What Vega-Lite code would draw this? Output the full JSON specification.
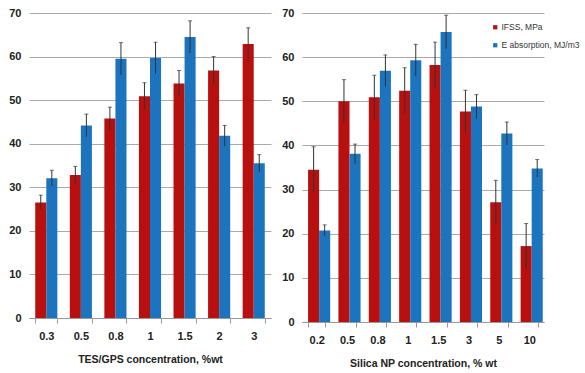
{
  "$schema": "https://vega.github.io/schema/vega-lite/v6.json",
  "padding": {"left": 8, "top": 7, "right": 0, "bottom": 0},
  "background": "white",
  "config": {
    "view": {"stroke": null},
    "font": "Liberation Sans",
    "axis": {
      "labelFont": "Liberation Sans",
      "labelFontSize": 11,
      "labelFontWeight": "bold",
      "labelColor": "#222",
      "titleFont": "Liberation Sans",
      "titleFontSize": 10.5,
      "titleFontWeight": "bold",
      "titleColor": "#222",
      "domainColor": "#999",
      "tickColor": "#999",
      "gridColor": "#aaa"
    }
  },
  "datasets": {
    "tes": [
      {"conc": "0.3", "series": "IFSS, MPa", "value": 26.5, "lo": 24.8, "hi": 28.2},
      {"conc": "0.3", "series": "E absorption, MJ/m3", "value": 32.1, "lo": 30.3, "hi": 33.9},
      {"conc": "0.5", "series": "IFSS, MPa", "value": 32.8, "lo": 30.8, "hi": 34.8},
      {"conc": "0.5", "series": "E absorption, MJ/m3", "value": 44.2, "lo": 41.6, "hi": 46.8},
      {"conc": "0.8", "series": "IFSS, MPa", "value": 45.8, "lo": 43.2, "hi": 48.4},
      {"conc": "0.8", "series": "E absorption, MJ/m3", "value": 59.5, "lo": 55.8, "hi": 63.2},
      {"conc": "1", "series": "IFSS, MPa", "value": 50.9, "lo": 47.8, "hi": 54.0},
      {"conc": "1", "series": "E absorption, MJ/m3", "value": 59.7, "lo": 56.1, "hi": 63.3},
      {"conc": "1.5", "series": "IFSS, MPa", "value": 53.8, "lo": 50.8, "hi": 56.8},
      {"conc": "1.5", "series": "E absorption, MJ/m3", "value": 64.5, "lo": 60.8, "hi": 68.2},
      {"conc": "2", "series": "IFSS, MPa", "value": 56.8, "lo": 53.6, "hi": 60.0},
      {"conc": "2", "series": "E absorption, MJ/m3", "value": 41.8, "lo": 39.4, "hi": 44.2},
      {"conc": "3", "series": "IFSS, MPa", "value": 62.9, "lo": 59.2, "hi": 66.6},
      {"conc": "3", "series": "E absorption, MJ/m3", "value": 35.5, "lo": 33.5, "hi": 37.5}
    ],
    "silica": [
      {"conc": "0.2", "series": "IFSS, MPa", "value": 34.5, "lo": 29.3, "hi": 39.7},
      {"conc": "0.2", "series": "E absorption, MJ/m3", "value": 20.7, "lo": 19.4, "hi": 22.0},
      {"conc": "0.5", "series": "IFSS, MPa", "value": 50.0, "lo": 45.1, "hi": 54.9},
      {"conc": "0.5", "series": "E absorption, MJ/m3", "value": 38.1, "lo": 35.9, "hi": 40.3},
      {"conc": "0.8", "series": "IFSS, MPa", "value": 50.9, "lo": 45.9, "hi": 55.9},
      {"conc": "0.8", "series": "E absorption, MJ/m3", "value": 56.9, "lo": 53.3, "hi": 60.5},
      {"conc": "1", "series": "IFSS, MPa", "value": 52.4, "lo": 47.2, "hi": 57.6},
      {"conc": "1", "series": "E absorption, MJ/m3", "value": 59.3, "lo": 55.7, "hi": 62.9},
      {"conc": "1.5", "series": "IFSS, MPa", "value": 58.2, "lo": 53.0, "hi": 63.4},
      {"conc": "1.5", "series": "E absorption, MJ/m3", "value": 65.7, "lo": 61.9, "hi": 69.5},
      {"conc": "3", "series": "IFSS, MPa", "value": 47.7, "lo": 42.9, "hi": 52.5},
      {"conc": "3", "series": "E absorption, MJ/m3", "value": 48.8, "lo": 46.1, "hi": 51.5},
      {"conc": "5", "series": "IFSS, MPa", "value": 27.1, "lo": 22.1, "hi": 32.1},
      {"conc": "5", "series": "E absorption, MJ/m3", "value": 42.7, "lo": 40.1, "hi": 45.3},
      {"conc": "10", "series": "IFSS, MPa", "value": 17.2, "lo": 12.1, "hi": 22.3},
      {"conc": "10", "series": "E absorption, MJ/m3", "value": 34.8, "lo": 32.8, "hi": 36.8}
    ]
  },
  "resolve": {"legend": {"color": "independent"}, "scale": {"y": "independent", "x": "independent"}},
  "spacing": 10,
  "hconcat": [
    {
      "width": 242,
      "height": 305,
      "data": {"name": "tes"},
      "encoding": {
        "x": {"field": "conc", "type": "nominal", "sort": null,
              "scale": {"paddingInner": 0.36, "paddingOuter": 0.18},
              "axis": {"title": "TES/GPS concentration, %wt", "labelAngle": 0, "tickBand": "extent", "tickSize": 5, "labelPadding": 7, "titlePadding": 13, "grid": false}},
        "xOffset": {"field": "series", "type": "nominal", "sort": ["IFSS, MPa", "E absorption, MJ/m3"]}
      },
      "layer": [
        {
          "mark": {"type": "bar"},
          "encoding": {
            "y": {"field": "value", "type": "quantitative", "scale": {"domain": [0, 70]},
                  "axis": {"title": null, "values": [0,10,20,30,40,50,60,70], "ticks": false, "labelPadding": 8, "domain": false}},
            "color": {"field": "series", "type": "nominal", "sort": ["IFSS, MPa", "E absorption, MJ/m3"],
                      "scale": {"domain": ["IFSS, MPa", "E absorption, MJ/m3"], "range": ["#B80F0F", "#1B74BD"]},
                      "legend": null}
          }
        },
        {
          "mark": {"type": "rule", "color": "#333", "strokeWidth": 1},
          "encoding": {"y": {"field": "lo", "type": "quantitative"}, "y2": {"field": "hi"}}
        },
        {
          "mark": {"type": "tick", "color": "#333", "thickness": 1, "size": 4},
          "encoding": {"y": {"field": "hi", "type": "quantitative"}}
        }
      ]
    },
    {
      "width": 242,
      "height": 309,
      "data": {"name": "silica"},
      "encoding": {
        "x": {"field": "conc", "type": "nominal", "sort": null,
              "scale": {"paddingInner": 0.43, "paddingOuter": 0.2},
              "axis": {"title": "Silica NP concentration, % wt", "labelAngle": 0, "tickBand": "extent", "tickSize": 5, "labelPadding": 7, "titlePadding": 13, "grid": false}},
        "xOffset": {"field": "series", "type": "nominal", "sort": ["IFSS, MPa", "E absorption, MJ/m3"]}
      },
      "layer": [
        {
          "mark": {"type": "bar"},
          "encoding": {
            "y": {"field": "value", "type": "quantitative", "scale": {"domain": [0, 70]},
                  "axis": {"title": null, "values": [0,10,20,30,40,50,60,70], "ticks": false, "labelPadding": 8, "domain": false}},
            "color": {"field": "series", "type": "nominal", "sort": ["IFSS, MPa", "E absorption, MJ/m3"],
                      "scale": {"domain": ["IFSS, MPa", "E absorption, MJ/m3"], "range": ["#B80F0F", "#1B74BD"]},
                      "legend": {"title": null, "orient": "none", "legendX": 189, "legendY": 10,
                                 "symbolType": "square", "symbolSize": 18, "labelFontSize": 8.5,
                                 "labelFont": "Liberation Sans", "labelColor": "#333", "rowPadding": 9, "labelOffset": 2, "labelLimit": 200}}
          }
        },
        {
          "mark": {"type": "rule", "color": "#333", "strokeWidth": 1},
          "encoding": {"y": {"field": "lo", "type": "quantitative"}, "y2": {"field": "hi"}}
        },
        {
          "mark": {"type": "tick", "color": "#333", "thickness": 1, "size": 4},
          "encoding": {"y": {"field": "hi", "type": "quantitative"}}
        }
      ]
    }
  ]
}
